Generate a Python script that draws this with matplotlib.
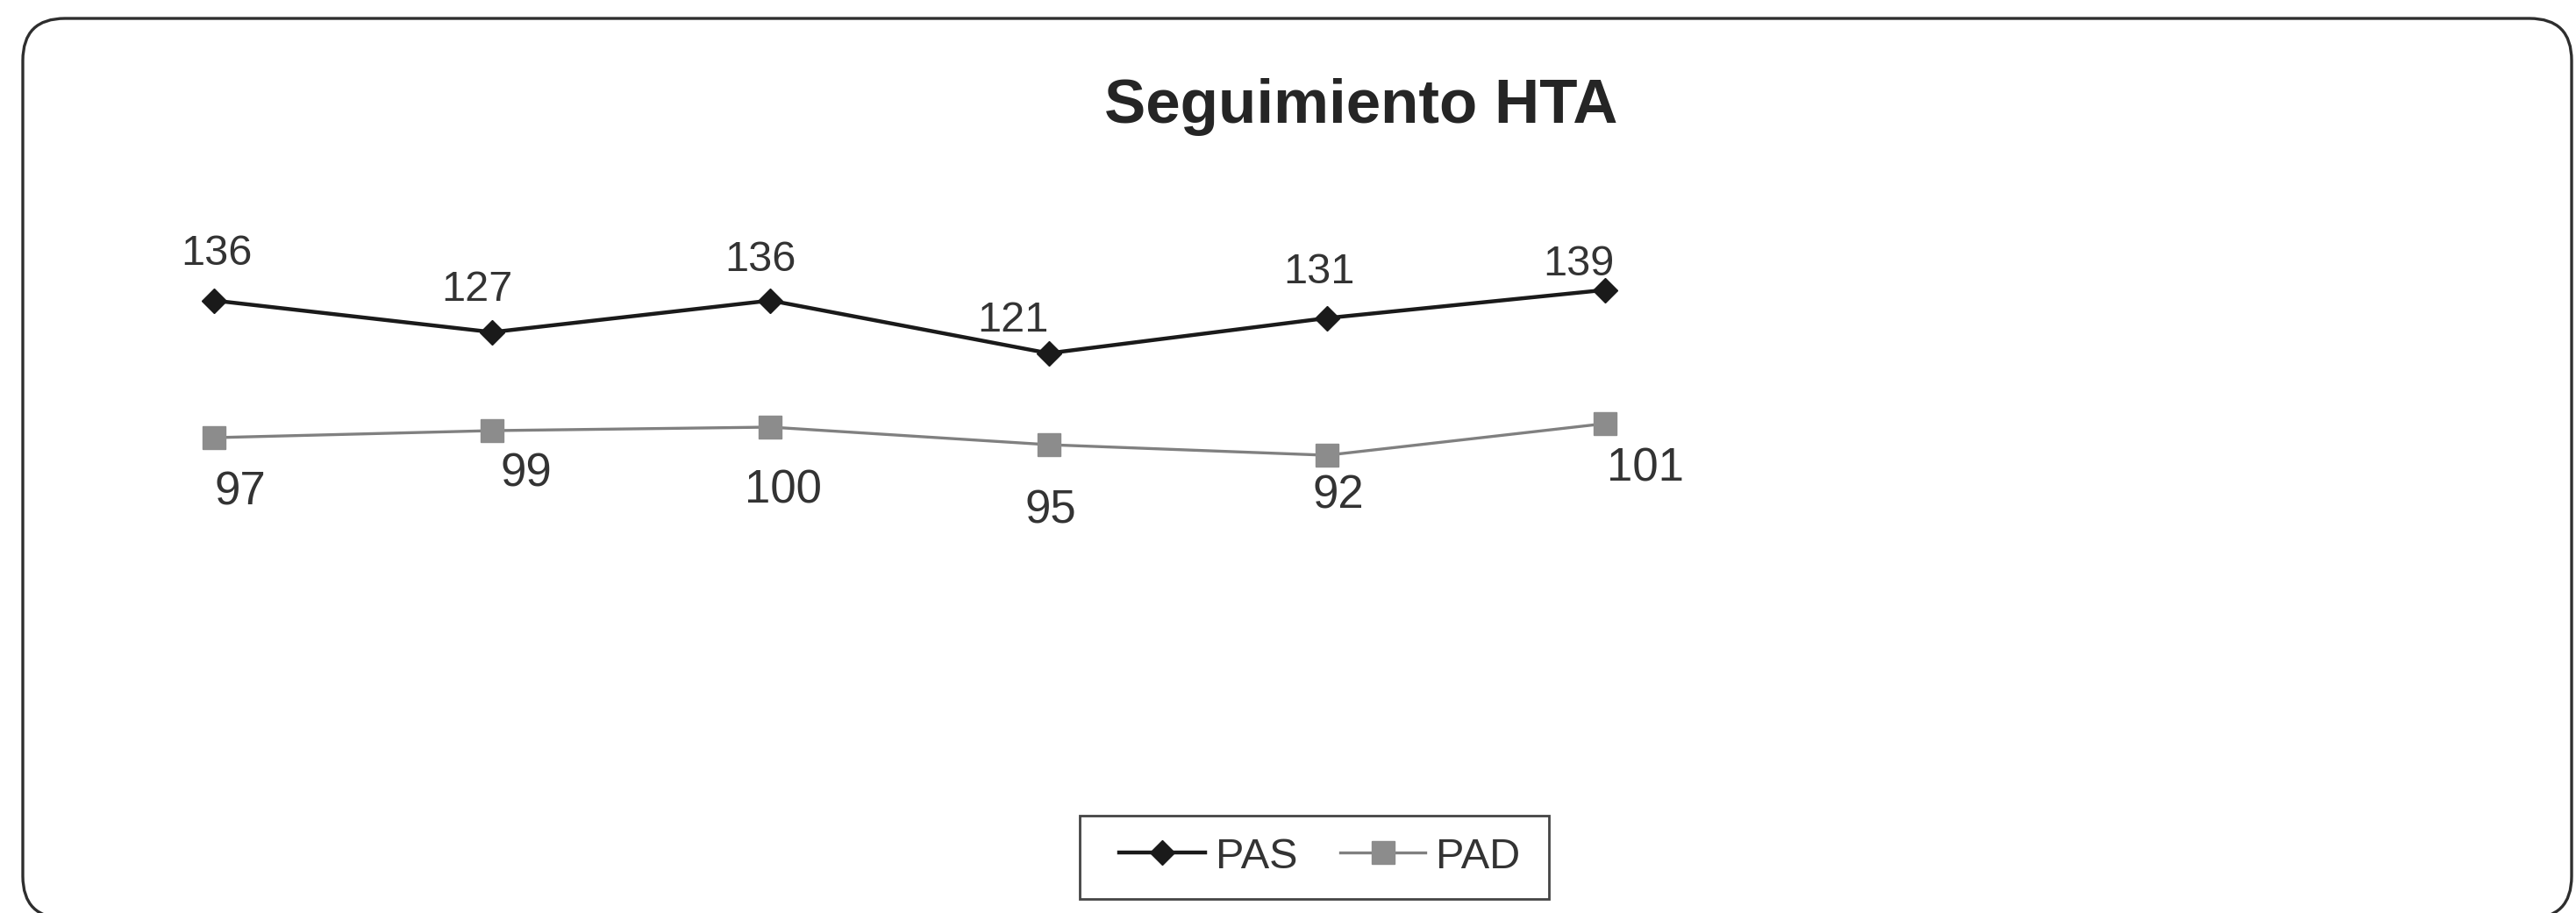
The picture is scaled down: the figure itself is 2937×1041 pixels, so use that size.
import matplotlib
matplotlib.use("Agg")
import matplotlib.pyplot as plt
from matplotlib.patches import FancyBboxPatch, Rectangle
from matplotlib.transforms import IdentityTransform

plt.rcParams["font.family"] = ["Liberation Sans", "DejaVu Sans"]

# blood pressure follow-up readings
visits = [1, 2, 3, 4, 5, 6]
pas = [136, 127, 136, 121, 131, 139]
pad = [97, 99, 100, 95, 92, 101]

# label offsets from each marker, in pixels (x right, y up)
pas_offsets = [(3, 53), (-17, 48), (-11, 46), (-41, 37), (-9, 52), (-30, 29)]
pad_offsets = [(30, -62), (39, -49), (15, -73), (2, -75), (13, -46), (46, -52)]

W, H, DPI = 2937, 1041, 100
fig = plt.figure(figsize=(W / DPI, H / DPI), dpi=DPI)
fig.patch.set_facecolor("white")

# rounded outer border of the chart area (pixel coordinates)
frame = FancyBboxPatch((26, -6), 2906, 1026,
                       boxstyle="round,pad=0,rounding_size=48",
                       transform=IdentityTransform(),
                       facecolor="none", edgecolor="#2e2e2e", linewidth=2.4)
fig.patches.append(frame)

ax = fig.add_axes([85.4 / W, 0.1470, 1903.2 / W, 0.6163])
ax.set_xlim(visits[0] - 0.5, visits[-1] + 0.5)
ax.set_ylim(0, 160)
ax.axis("off")

ax.plot(visits, pas, color="#1a1a1a", linewidth=3.2, marker="D",
        markersize=14, markerfacecolor="#1a1a1a", markeredgecolor="#1a1a1a",
        label="PAS", zorder=3)
ax.plot(visits, pad, color="#808080", linewidth=2.4, marker="s",
        markersize=19, markerfacecolor="#8c8c8c", markeredgecolor="#8c8c8c",
        label="PAD", zorder=3)

for x, y, off in zip(visits, pas, pas_offsets):
    ax.annotate(str(y), (x, y), xytext=off, textcoords="offset pixels",
                ha="center", va="center", fontsize=35, color="#333333")
for x, y, off in zip(visits, pad, pad_offsets):
    ax.annotate(str(y), (x, y), xytext=off, textcoords="offset pixels",
                ha="center", va="center", fontsize=38, color="#333333")

fig.text(1552 / W, (H - 140) / H, "Seguimiento HTA", ha="center",
         va="baseline", fontsize=51, fontweight="bold", color="#252525")

# legend entries, with a plain box drawn around them
leg = fig.legend(loc="center", bbox_to_anchor=(1505 / W, (H - 977) / H),
                 ncol=2, fontsize=35, frameon=False,
                 handlelength=2.0, handletextpad=0.25, columnspacing=1.0,
                 borderpad=0.0)
for t in leg.get_texts():
    t.set_color("#333333")
fig.patches.append(Rectangle((1231, H - 1025), 535, 95,
                             transform=IdentityTransform(), facecolor="none",
                             edgecolor="#444444", linewidth=2.0))

fig.savefig("out.png", dpi=DPI, facecolor="white")
